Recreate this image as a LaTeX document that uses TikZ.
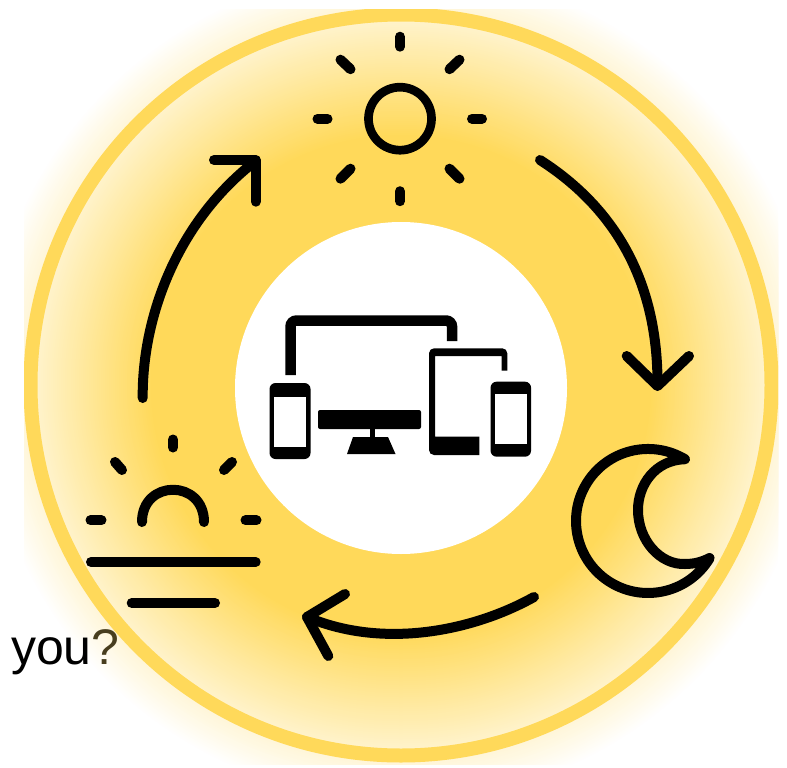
\documentclass[tikz,border=0pt]{standalone}
\usepackage{fontspec}
\setmainfont{Liberation Sans}
\usetikzlibrary{positioning,calc}
\definecolor{sunYellow}{RGB}{255,217,90}
\definecolor{markDark}{RGB}{72,62,30}

\begin{document}
\begin{tikzpicture}[
    x=1pt, y=-1pt,
    ring/.style={draw=sunYellow, line width=14pt, circle, minimum size=741pt, inner sep=0pt},
    hub/.style={fill=white, circle, minimum size=332pt, inner sep=0pt},
    icon/.style={line width=10pt, line cap=round, line join=round},
    arr/.style={line width=10pt, line cap=round, line join=round},
    body/.style={fill=black, rounded corners=6pt},
    screen/.style={fill=white},
]
\useasboundingbox (0,0) rectangle (787,768);

% Glow
\begin{scope}
\clip (24,10) rectangle (778,764);
\foreach \r in {418,416,...,250} {
  \pgfmathsetmacro\glowPct{(418-\r)/1.68}
  \fill[sunYellow!\glowPct!white] (401,385) circle[radius=\r pt];
}
\node[ring] (rim) at (401,385) {};
\end{scope}
\node[hub] (hub) at (401,388) {};

% Sun
\coordinate (sun) at (400,118.7);
\draw[icon, line width=8.7pt] (sun) circle[radius=31.5pt];
\foreach \dx/\dy/\ex/\ey in {0/-82/0/-72, 0/82.5/0/72.5, -82.5/0/-72.5/0, 82/0/72/0,
    -59.5/-59/-49.5/-49.5, 59.5/-59/49.5/-49.5, -59.5/60/-49.5/50, 59.5/60/49.5/50}
  \draw[icon] ($(sun)+(\dx,\dy)$) -- ($(sun)+(\ex,\ey)$);

% Moon
\coordinate (moonTip) at (685,459.2);
\coordinate (moonEnd) at (709.5,558);
\draw[icon] (moonTip) arc[start angle=59.1, end angle=328.7, radius=72pt] -- (moonEnd)
    .. controls (702,562) and (694,564) .. (685,564)
    .. controls (660,565) and (638,540) .. (638,510)
    .. controls (638,485) and (655,460) .. (moonTip) -- cycle;

% Sunset
\coordinate (dusk) at (173,520);
\draw[icon] ($(dusk)+(-31,2)$) .. controls ($(dusk)+(-31,-41)$) and ($(dusk)+(31,-41)$) .. ($(dusk)+(31,2)$);
\foreach \dx/\dy/\ex/\ey in {0/-80.5/0/-72.5, -58/-58/-51/-50, 59/-58/51/-50, -82.5/0.3/-71.5/0.3, 83.5/0.3/72.5/0.3}
  \draw[icon] ($(dusk)+(\dx,\dy)$) -- ($(dusk)+(\ex,\ey)$);
\draw[icon] (91,562) -- (255.7,562);
\draw[icon] (131.7,603) -- (215,603);

% Arrows
\coordinate (a1) at (142.7,398);
\coordinate (a2) at (253,163);
\coordinate (b1) at (540,160);
\coordinate (b2) at (657.5,385);
\coordinate (c1) at (534,597);
\coordinate (c2) at (307,617);
\draw[arr] (a1) .. controls (142,320) and (175,225) .. (a2);
\draw[arr] (214,160) -- (255.7,160) -- (255.7,201.7);
\draw[arr] (b1) .. controls (618,210) and (658,285) .. (b2);
\draw[arr] (626.7,356) -- (657.5,386) -- (689,356);
\draw[arr] (c1) .. controls (475,630) and (385,650) .. (c2);
\draw[arr] (345,594) -- (307,617) -- (328.3,656);

% Devices
\draw[line width=10.5pt, rounded corners=6pt] (290.5,375) -- (290.5,320.5) -- (452,320.5) -- (452,341);
\fill[rounded corners=5pt] (479.3,455) -- (429,455) -- (429,348.3) -- (507.3,348.3)
    [sharp corners] -- (507.3,370.7) -- (501.7,370.7) -- (501.7,356) -- (435,356) -- (435,436.7) -- (479.3,436.7) -- cycle;
\node[body, minimum width=41pt, minimum height=76pt, inner sep=0pt] (phoneL) at (290,421) {};
\node[screen, minimum width=32pt, minimum height=50pt, inner sep=0pt] (screenL) at (290,421.7) {};
\node[body, minimum width=40.5pt, minimum height=75pt, inner sep=0pt] (phoneR) at (510.8,419.2) {};
\node[screen, minimum width=32pt, minimum height=50pt, inner sep=0pt] (screenR) at (511.2,419.3) {};
\fill[rounded corners=2pt] (318,410) rectangle (421,429);
\fill (369.5,429) rectangle (374.5,438);
\fill (353,437) -- (388,437) -- (395.5,454) -- (347,454) -- cycle;

% Label
\node[anchor=base west, inner sep=0pt, font=\fontsize{50}{50}\selectfont] (you) at (11,664) {you\textcolor{markDark}{?}};
\end{tikzpicture}
\end{document}
